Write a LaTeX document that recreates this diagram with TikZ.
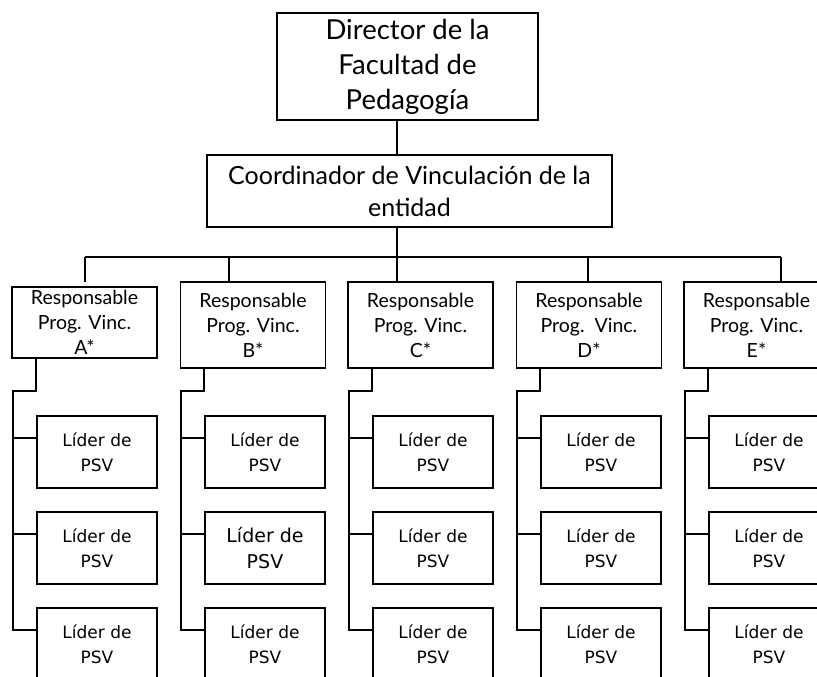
\documentclass[tikz,border=0pt]{standalone}
\usepackage{fontspec}
\setmainfont{Lato}
\newfontfamily\lidfont{DejaVu Sans}
\usetikzlibrary{calc}
\begin{document}
\begin{tikzpicture}[x=1pt,y=-1pt,line width=1.6pt,
  box/.style={draw,rectangle,inner sep=0pt,align=center,line width=1.6pt},
  topbox/.style={box,font={\fontsize{27.5}{35}\selectfont}},
  coordbox/.style={box,font={\fontsize{25}{32}\selectfont}},
  resp/.style={box,minimum width=145pt,font={\fontsize{19.5}{25}\selectfont}},
  lider/.style={box,minimum width=120pt,minimum height=72pt,font={\lidfont\fontsize{17}{25}\selectfont}},
  liderbig/.style={lider,font={\lidfont\fontsize{19}{26}\selectfont}},
  conn/.style={draw,line width=1.6pt}]
\useasboundingbox (0,0) rectangle (817,677);
\clip (0,0) rectangle (817,677);

\node[topbox,minimum width=261pt,minimum height=107pt] (dir) at (407.5,66.5)
  {Director de la\\Facultad de\\Pedagogía};
\node[coordbox,minimum width=405pt,minimum height=72pt] (coord) at (409.5,191)
  {Coordinador de Vinculación de la\\entidad};
\coordinate (bus) at (397,257);
\draw[conn] (bus |- dir.south) -- (bus |- coord.north);
\draw[conn] (bus |- coord.south) -- (bus);

\foreach \n/\cx/\cy/\h/\d/\sp/\lb/\lab/\st in {
  A/84.5/322.5/71/85/13/{Prog. Vinc.}/{A*}/lider,
  B/253/325/86/229/181/{Prog. Vinc.}/{B*}/liderbig,
  C/420.5/325/86/397/349/{Prog. Vinc.}/{C*}/lider,
  D/589/325/86/588/517/{Prog.\ \ Vinc.}/{D*}/lider,
  E/756.5/325/86/781/685/{Prog. Vinc.}/{E*}/lider} {
  \node[resp,minimum height=\h pt] (\n) at (\cx,\cy) {Responsable\\\lb\\\lab};
  \coordinate (\n d) at (\d,282);
  \draw[conn] (\n d) -- (\n d |- bus);
  \node[lider] (\n1) at (\sp+84,452) {Líder de\\PSV};
  \node[\st] (\n2) at (\sp+84,548) {Líder de\\PSV};
  \node[lider] (\n3) at (\sp+84,644) {Líder de\\PSV};
  \coordinate (\n t) at (\sp,391);
  \coordinate (\n s1) at ($(\n1.north west)+(0,23)$);
  \coordinate (\n s2) at ($(\n2.north west)+(0,23)$);
  \coordinate (\n s3) at ($(\n3.north west)+(0,23)$);
  \draw[conn] (\n.south -| \n1.west) |- (\n t) -- (\n t |- \n s3) -- (\n s3);
  \draw[conn] (\n t |- \n s1) -- (\n s1);
  \draw[conn] (\n t |- \n s2) -- (\n s2);
}
\draw[conn] (Ad |- bus) -- (Ed |- bus);
\end{tikzpicture}
\end{document}
